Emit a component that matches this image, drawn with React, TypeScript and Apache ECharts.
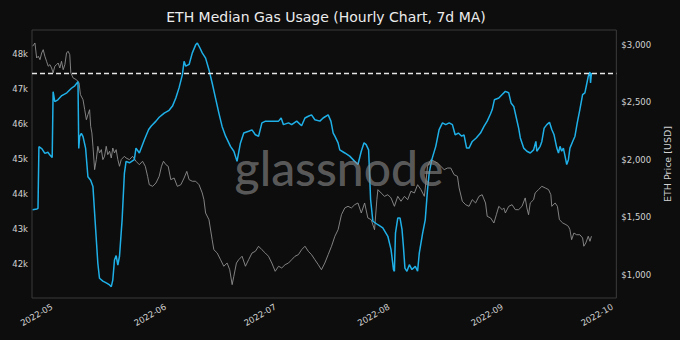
import React, { useEffect, useRef } from 'react';
import * as echarts from 'echarts';

const TITLE = 'ETH Median Gas Usage (Hourly Chart, 7d MA)';
const PRICE_AXIS_NAME = 'ETH Price [USD]';
const WATERMARK = 'glassnode';

const gasTicks = [42000, 43000, 44000, 45000, 46000, 47000, 48000];
const priceTicks = [1000, 1500, 2000, 2500, 3000];
const monthTicks = ['2022-05-01', '2022-06-01', '2022-07-01', '2022-08-01', '2022-09-01', '2022-10-01'];
const timeRange = ['2022-04-25 13:40', '2022-10-02 02:10'];
const gasRange = [41037, 48694];
const priceRange = [800, 3130];
const gasReference = 47470;

const gasUsage: [string, number][] = [
  ['2022-04-25 18:00', 43560], ['2022-04-26 22:00', 43580], ['2022-04-27 05:00', 43600], ['2022-04-27 11:00', 45360],
  ['2022-04-28 07:00', 45300], ['2022-04-29 02:00', 45170], ['2022-04-29 22:00', 45200], ['2022-04-30 11:00', 45120],
  ['2022-05-01 02:00', 45050], ['2022-05-01 08:00', 46930], ['2022-05-01 19:00', 46650], ['2022-05-02 15:00', 46700],
  ['2022-05-03 17:00', 46820], ['2022-05-05 02:00', 46900], ['2022-05-06 08:00', 47030], ['2022-05-07 06:00', 47100],
  ['2022-05-08 03:00', 47220], ['2022-05-08 08:00', 45310], ['2022-05-08 14:00', 45650], ['2022-05-09 01:00', 45740],
  ['2022-05-09 12:00', 45650], ['2022-05-10 05:00', 45310], ['2022-05-10 20:00', 44500], ['2022-05-11 14:00', 44400],
  ['2022-05-12 05:00', 44220], ['2022-05-12 23:00', 42980], ['2022-05-13 13:00', 42030], ['2022-05-14 00:00', 41600],
  ['2022-05-14 22:00', 41520], ['2022-05-15 20:00', 41470], ['2022-05-16 18:00', 41410], ['2022-05-17 05:00', 41360],
  ['2022-05-17 15:00', 41550], ['2022-05-18 02:00', 42120], ['2022-05-18 13:00', 42250], ['2022-05-19 00:00', 41980],
  ['2022-05-19 11:00', 42230], ['2022-05-20 04:00', 43270], ['2022-05-20 19:00', 44600], ['2022-05-21 06:00', 44940],
  ['2022-05-22 04:00', 44900], ['2022-05-23 12:00', 44990], ['2022-05-23 23:00', 45320], ['2022-05-24 21:00', 45180],
  ['2022-05-26 06:00', 45560], ['2022-05-27 10:00', 45850], ['2022-05-28 03:00', 45950], ['2022-05-29 10:00', 46090],
  ['2022-05-30 07:00', 46200], ['2022-05-31 16:00', 46320], ['2022-06-02 00:00', 46400], ['2022-06-02 22:00', 46520],
  ['2022-06-03 20:00', 46750], ['2022-06-04 17:00', 47040], ['2022-06-05 15:00', 47420], ['2022-06-06 02:00', 47800],
  ['2022-06-06 13:00', 47660], ['2022-06-07 11:00', 47710], ['2022-06-08 08:00', 48040], ['2022-06-09 06:00', 48270],
  ['2022-06-09 17:00', 48320], ['2022-06-10 10:00', 48180], ['2022-06-11 01:00', 48040], ['2022-06-11 23:00', 47890],
  ['2022-06-12 21:00', 47560], ['2022-06-13 18:00', 47180], ['2022-06-14 16:00', 46750], ['2022-06-15 14:00', 46320],
  ['2022-06-16 11:00', 45940], ['2022-06-17 10:00', 45660], ['2022-06-18 18:00', 45370], ['2022-06-19 16:00', 45230],
  ['2022-06-20 13:00', 44940], ['2022-06-21 11:00', 45460], ['2022-06-22 09:00', 45750], ['2022-06-23 17:00', 45800],
  ['2022-06-24 15:00', 45840], ['2022-06-25 13:00', 45700], ['2022-06-26 10:00', 45660], ['2022-06-27 08:00', 46040],
  ['2022-06-28 08:00', 46090], ['2022-06-29 23:00', 46090], ['2022-07-01 21:00', 46090], ['2022-07-02 14:00', 46180],
  ['2022-07-03 05:00', 45990], ['2022-07-04 14:00', 46040], ['2022-07-05 11:00', 45990], ['2022-07-06 20:00', 46090],
  ['2022-07-08 04:00', 45960], ['2022-07-09 02:00', 46180], ['2022-07-10 00:00', 46230], ['2022-07-10 21:00', 46270],
  ['2022-07-11 19:00', 46130], ['2022-07-13 04:00', 46090], ['2022-07-14 01:00', 46180], ['2022-07-15 10:00', 46270],
  ['2022-07-16 04:00', 46090], ['2022-07-16 19:00', 45750], ['2022-07-17 06:00', 45660], ['2022-07-18 03:00', 45470],
  ['2022-07-18 14:00', 45270], ['2022-07-19 23:00', 45180], ['2022-07-21 07:00', 45090], ['2022-07-22 16:00', 44940],
  ['2022-07-23 13:00', 44850], ['2022-07-24 11:00', 45230], ['2022-07-25 05:00', 45470], ['2022-07-25 19:00', 45420],
  ['2022-07-26 11:00', 45270], ['2022-07-27 00:00', 43850], ['2022-07-27 15:00', 43230], ['2022-07-29 00:00', 43130],
  ['2022-07-30 08:00', 43040], ['2022-07-31 17:00', 42800], ['2022-08-01 14:00', 42420], ['2022-08-02 06:00', 41850],
  ['2022-08-02 12:00', 41800], ['2022-08-02 19:00', 42890], ['2022-08-03 10:00', 43320], ['2022-08-04 01:00', 43320],
  ['2022-08-04 14:00', 42990], ['2022-08-04 23:00', 42510], ['2022-08-05 09:00', 41890], ['2022-08-05 22:00', 41800],
  ['2022-08-06 14:00', 41990], ['2022-08-07 07:00', 41850], ['2022-08-08 05:00', 41940], ['2022-08-08 20:00', 41800],
  ['2022-08-09 07:00', 42320], ['2022-08-10 05:00', 42890], ['2022-08-10 22:00', 43270], ['2022-08-11 13:00', 44130],
  ['2022-08-12 00:00', 44610], ['2022-08-12 17:00', 44990], ['2022-08-13 19:00', 45370], ['2022-08-14 17:00', 45850],
  ['2022-08-15 15:00', 46040], ['2022-08-16 12:00', 45990], ['2022-08-17 11:00', 46040], ['2022-08-18 08:00', 45990],
  ['2022-08-19 02:00', 45700], ['2022-08-19 23:00', 45750], ['2022-08-20 21:00', 45660], ['2022-08-21 12:00', 45700],
  ['2022-08-22 05:00', 45320], ['2022-08-22 21:00', 45320], ['2022-08-23 18:00', 45510], ['2022-08-24 20:00', 45610],
  ['2022-08-26 00:00', 45750], ['2022-08-26 23:00', 45940], ['2022-08-27 20:00', 46090], ['2022-08-28 18:00', 46300],
  ['2022-08-29 05:00', 46420], ['2022-08-29 19:00', 46700], ['2022-08-31 00:00', 46750], ['2022-08-31 22:00', 46850],
  ['2022-09-01 19:00', 46940], ['2022-09-02 17:00', 46900], ['2022-09-03 08:00', 46610], ['2022-09-04 02:00', 46510],
  ['2022-09-04 19:00', 46180], ['2022-09-05 10:00', 45890], ['2022-09-05 21:00', 45610], ['2022-09-06 19:00', 45320],
  ['2022-09-07 16:00', 45230], ['2022-09-08 14:00', 45180], ['2022-09-09 12:00', 45270], ['2022-09-10 03:00', 45510],
  ['2022-09-10 09:00', 45230], ['2022-09-11 07:00', 45370], ['2022-09-11 18:00', 45510], ['2022-09-12 09:00', 45890],
  ['2022-09-13 03:00', 45990], ['2022-09-13 20:00', 46060], ['2022-09-14 11:00', 45850], ['2022-09-15 02:00', 45700],
  ['2022-09-15 20:00', 45320], ['2022-09-16 07:00', 45180], ['2022-09-16 17:00', 45370], ['2022-09-17 04:00', 45230],
  ['2022-09-17 15:00', 45320], ['2022-09-18 02:00', 45090], ['2022-09-18 13:00', 44850], ['2022-09-19 00:00', 44990],
  ['2022-09-19 10:00', 45320], ['2022-09-20 04:00', 45510], ['2022-09-20 19:00', 45660], ['2022-09-21 10:00', 46040],
  ['2022-09-22 03:00', 46420], ['2022-09-22 21:00', 46850], ['2022-09-23 12:00', 46900], ['2022-09-23 23:00', 47130],
  ['2022-09-24 10:00', 47370], ['2022-09-24 21:00', 47490], ['2022-09-25 01:00', 47180], ['2022-09-25 07:00', 47470],
];

const ethPrice: [string, number][] = [
  ['2022-04-25 18:00', 2989], ['2022-04-26 09:00', 3017], ['2022-04-26 20:00', 2887], ['2022-04-27 07:00', 2902],
  ['2022-04-27 18:00', 2872], ['2022-04-28 05:00', 2930], ['2022-04-28 15:00', 2959], ['2022-04-29 02:00', 2902],
  ['2022-04-29 13:00', 2858], ['2022-04-30 00:00', 2815], ['2022-04-30 11:00', 2829], ['2022-04-30 22:00', 2800],
  ['2022-05-01 08:00', 2757], ['2022-05-01 19:00', 2815], ['2022-05-02 07:00', 2829], ['2022-05-02 17:00', 2843],
  ['2022-05-03 04:00', 2800], ['2022-05-03 15:00', 2858], ['2022-05-04 02:00', 2785], ['2022-05-04 13:00', 2829],
  ['2022-05-05 00:00', 2930], ['2022-05-05 10:00', 2945], ['2022-05-05 21:00', 2916], ['2022-05-06 04:00', 2757],
  ['2022-05-06 19:00', 2713], ['2022-05-07 17:00', 2698], ['2022-05-08 10:00', 2670], ['2022-05-08 19:00', 2568],
  ['2022-05-09 12:00', 2524], ['2022-05-09 23:00', 2437], ['2022-05-10 10:00', 2350], ['2022-05-10 20:00', 2394],
  ['2022-05-11 07:00', 2437], ['2022-05-11 14:00', 2293], ['2022-05-11 22:00', 2235], ['2022-05-12 05:00', 2119],
  ['2022-05-12 16:00', 1916], ['2022-05-13 03:00', 2003], ['2022-05-13 13:00', 2119], ['2022-05-14 00:00', 2061],
  ['2022-05-14 12:00', 2090], ['2022-05-14 22:00', 2003], ['2022-05-15 09:00', 2032], ['2022-05-15 20:00', 2119],
  ['2022-05-16 06:00', 2046], ['2022-05-16 18:00', 2076], ['2022-05-17 05:00', 2017], ['2022-05-17 15:00', 2104],
  ['2022-05-18 02:00', 2061], ['2022-05-18 13:00', 2090], ['2022-05-19 00:00', 2003], ['2022-05-19 11:00', 1945],
  ['2022-05-19 22:00', 2003], ['2022-05-20 19:00', 2032], ['2022-05-21 06:00', 2017], ['2022-05-22 04:00', 2003],
  ['2022-05-23 01:00', 2032], ['2022-05-23 23:00', 1989], ['2022-05-24 21:00', 1959], ['2022-05-25 18:00', 1989],
  ['2022-05-26 12:00', 1945], ['2022-05-27 03:00', 1858], ['2022-05-27 14:00', 1785], ['2022-05-28 12:00', 1771],
  ['2022-05-29 10:00', 1800], ['2022-05-30 07:00', 1858], ['2022-05-30 22:00', 1945], ['2022-05-31 11:00', 1989],
  ['2022-06-01 03:00', 1959], ['2022-06-01 18:00', 1945], ['2022-06-02 11:00', 1829], ['2022-06-03 09:00', 1843],
  ['2022-06-04 06:00', 1771], ['2022-06-05 05:00', 1785], ['2022-06-06 02:00', 1843], ['2022-06-06 20:00', 1901],
  ['2022-06-07 11:00', 1829], ['2022-06-08 08:00', 1815], ['2022-06-09 06:00', 1815], ['2022-06-10 04:00', 1785],
  ['2022-06-11 01:00', 1713], ['2022-06-11 12:00', 1655], ['2022-06-11 23:00', 1539], ['2022-06-12 21:00', 1481],
  ['2022-06-13 18:00', 1307], ['2022-06-14 05:00', 1220], ['2022-06-15 03:00', 1191], ['2022-06-16 01:00', 1133],
  ['2022-06-16 22:00', 1076], ['2022-06-17 20:00', 1104], ['2022-06-18 13:00', 1046], ['2022-06-19 05:00', 916],
  ['2022-06-19 16:00', 989], ['2022-06-20 09:00', 1104], ['2022-06-21 00:00', 1133], ['2022-06-21 22:00', 1163],
  ['2022-06-22 20:00', 1076], ['2022-06-23 17:00', 1133], ['2022-06-24 15:00', 1191], ['2022-06-25 13:00', 1206],
  ['2022-06-26 10:00', 1250], ['2022-06-27 08:00', 1220], ['2022-06-28 06:00', 1191], ['2022-06-29 03:00', 1163],
  ['2022-06-30 01:00', 1104], ['2022-06-30 23:00', 1032], ['2022-07-01 21:00', 1076], ['2022-07-02 18:00', 1061],
  ['2022-07-03 16:00', 1090], ['2022-07-04 14:00', 1104], ['2022-07-05 11:00', 1133], ['2022-07-06 09:00', 1163],
  ['2022-07-07 07:00', 1177], ['2022-07-08 04:00', 1220], ['2022-07-09 02:00', 1250], ['2022-07-10 00:00', 1206],
  ['2022-07-10 21:00', 1177], ['2022-07-11 19:00', 1133], ['2022-07-12 17:00', 1090], ['2022-07-13 14:00', 1046],
  ['2022-07-14 12:00', 1104], ['2022-07-15 10:00', 1177], ['2022-07-16 08:00', 1250], ['2022-07-17 06:00', 1337],
  ['2022-07-18 03:00', 1394], ['2022-07-19 01:00', 1524], ['2022-07-19 23:00', 1583], ['2022-07-20 20:00', 1597],
  ['2022-07-21 18:00', 1583], ['2022-07-22 16:00', 1611], ['2022-07-23 13:00', 1626], ['2022-07-24 11:00', 1539],
  ['2022-07-25 09:00', 1626], ['2022-07-26 06:00', 1496], ['2022-07-27 04:00', 1481], ['2022-07-28 02:00', 1394],
  ['2022-07-28 17:00', 1655], ['2022-07-29 00:00', 1742], ['2022-07-29 21:00', 1713], ['2022-07-30 19:00', 1684],
  ['2022-07-31 17:00', 1698], ['2022-08-01 14:00', 1670], ['2022-08-02 12:00', 1597], ['2022-08-03 10:00', 1684],
  ['2022-08-04 07:00', 1641], ['2022-08-05 06:00', 1684], ['2022-08-06 03:00', 1655], ['2022-08-07 00:00', 1728],
  ['2022-08-07 23:00', 1713], ['2022-08-08 20:00', 1785], ['2022-08-09 18:00', 1742], ['2022-08-10 16:00', 1684],
  ['2022-08-11 02:00', 1800], ['2022-08-11 13:00', 1945], ['2022-08-12 11:00', 2003], ['2022-08-13 09:00', 1989],
  ['2022-08-14 06:00', 1974], ['2022-08-15 04:00', 1945], ['2022-08-16 02:00', 1916], ['2022-08-17 00:00', 1930],
  ['2022-08-17 21:00', 1930], ['2022-08-18 19:00', 1872], ['2022-08-19 17:00', 1858], ['2022-08-20 04:00', 1757],
  ['2022-08-21 01:00', 1641], ['2022-08-21 23:00', 1611], ['2022-08-22 21:00', 1597], ['2022-08-23 18:00', 1655],
  ['2022-08-24 16:00', 1626], ['2022-08-25 14:00', 1684], ['2022-08-26 11:00', 1698], ['2022-08-27 09:00', 1626],
  ['2022-08-27 20:00', 1510], ['2022-08-28 18:00', 1496], ['2022-08-29 16:00', 1452], ['2022-08-30 08:00', 1524],
  ['2022-08-31 00:00', 1597], ['2022-08-31 22:00', 1568], ['2022-09-01 09:00', 1583], ['2022-09-01 19:00', 1539],
  ['2022-09-02 17:00', 1597], ['2022-09-03 15:00', 1611], ['2022-09-04 12:00', 1568], ['2022-09-05 10:00', 1568],
  ['2022-09-06 08:00', 1597], ['2022-09-07 05:00', 1670], ['2022-09-07 16:00', 1583], ['2022-09-08 03:00', 1524],
  ['2022-09-08 14:00', 1626], ['2022-09-09 12:00', 1655], ['2022-09-09 22:00', 1713], ['2022-09-10 20:00', 1742],
  ['2022-09-11 18:00', 1771], ['2022-09-12 16:00', 1757], ['2022-09-13 14:00', 1742], ['2022-09-14 05:00', 1698],
  ['2022-09-14 11:00', 1597], ['2022-09-15 09:00', 1626], ['2022-09-16 00:00', 1597], ['2022-09-16 13:00', 1481],
  ['2022-09-17 11:00', 1452], ['2022-09-18 08:00', 1438], ['2022-09-19 00:00', 1423], ['2022-09-19 10:00', 1394],
  ['2022-09-19 21:00', 1307], ['2022-09-20 12:00', 1365], ['2022-09-21 06:00', 1350], ['2022-09-22 03:00', 1350],
  ['2022-09-22 21:00', 1322], ['2022-09-23 05:00', 1250], ['2022-09-23 18:00', 1278], ['2022-09-24 10:00', 1337],
  ['2022-09-24 21:00', 1293], ['2022-09-25 07:00', 1337],
];

const toUtc = (s: string): number =>
  Date.parse(s.length > 10 ? s.replace(' ', 'T') + ':00Z' : s + 'T00:00:00Z');

const monthLabel = (v: number): string => {
  const d = new Date(v);
  return `${d.getUTCFullYear()}-${String(d.getUTCMonth() + 1).padStart(2, '0')}`;
};

const dollar = (v: number): string => {
  const th = Math.floor(v / 1000);
  const rest = v % 1000;
  return th > 0 ? `$${th},${String(rest).padStart(3, '0')}` : `$${rest}`;
};

const FONT = 'DejaVu Sans';
const LABEL_COLOR = '#d2d2d2';

export default function App() {
  const ref = useRef<HTMLDivElement>(null);

  useEffect(() => {
    if (!ref.current) return;
    const chart = echarts.init(ref.current, undefined, { renderer: 'svg' });
    chart.setOption({
      animation: false,
      backgroundColor: '#0d0d0d',
      textStyle: { fontFamily: FONT },
      title: {
        text: TITLE,
        left: 326,
        top: 10,
        padding: 0,
        textAlign: 'center',
        textStyle: { color: '#ececec', fontSize: 14, fontWeight: 'normal', fontFamily: FONT },
      },
      grid: {
        left: 32,
        right: 60,
        top: 30,
        bottom: 42,
        show: true,
        borderColor: '#3a3a3a',
        borderWidth: 1,
        backgroundColor: 'transparent',
      },
      xAxis: {
        type: 'value',
        min: toUtc(timeRange[0]),
        max: toUtc(timeRange[1]),
        axisLine: { show: false },
        axisTick: { show: false },
        splitLine: { show: false },
        axisLabel: {
          customValues: monthTicks.map(toUtc),
          formatter: (v: number) => monthLabel(v),
          rotate: 30,
          margin: 8,
          color: LABEL_COLOR,
          fontSize: 8.5,
          fontFamily: FONT,
          hideOverlap: false,
          showMinLabel: true,
          showMaxLabel: true,
        },
      },
      yAxis: [
        {
          type: 'value',
          position: 'left',
          min: gasRange[0],
          max: gasRange[1],
          axisLine: { show: false },
          axisTick: { show: false },
          splitLine: { show: false },
          axisLabel: {
            customValues: gasTicks,
            formatter: (v: number) => `${v / 1000}k`,
            margin: 4,
            color: LABEL_COLOR,
            fontSize: 8.5,
            fontFamily: FONT,
          },
        },
        {
          type: 'value',
          position: 'right',
          min: priceRange[0],
          max: priceRange[1],
          name: PRICE_AXIS_NAME,
          nameLocation: 'middle',
          nameRotate: 90,
          nameGap: 37,
          nameTextStyle: { color: LABEL_COLOR, fontSize: 9.5, fontFamily: FONT },
          axisLine: { show: false },
          axisTick: { show: false },
          splitLine: { show: false },
          axisLabel: {
            customValues: priceTicks,
            formatter: (v: number) => dollar(v),
            margin: 5,
            color: LABEL_COLOR,
            fontSize: 8.5,
            fontFamily: FONT,
          },
        },
      ],
      graphic: [
        {
          type: 'text',
          z: 100,
          silent: true,
          style: {
            text: WATERMARK,
            x: 339,
            y: 167,
            align: 'center',
            verticalAlign: 'middle',
            fill: 'rgba(140,140,140,0.62)',
            font: '500 48px Lato',
          },
        },
      ],
      series: [
        {
          name: 'ETH Price',
          type: 'line',
          yAxisIndex: 1,
          data: ethPrice.map(([t, v]) => [toUtc(t), v]),
          showSymbol: false,
          symbol: 'none',
          lineStyle: { color: '#8e8e8e', width: 0.9 },
          z: 2,
        },
        {
          name: 'Median Gas Usage',
          type: 'line',
          yAxisIndex: 0,
          data: gasUsage.map(([t, v]) => [toUtc(t), v]),
          showSymbol: false,
          symbol: 'none',
          lineStyle: { color: '#1fb0e8', width: 1.5 },
          z: 3,
          markLine: {
            silent: true,
            symbol: ['none', 'none'],
            label: { show: false },
            lineStyle: { color: '#e6e6e6', type: [5, 3], width: 1.3 },
            data: [{ yAxis: gasReference }],
          },
        },
      ],
    });
    return () => chart.dispose();
  }, []);

  return (
    <div
      ref={ref}
      style={{ position: 'fixed', left: 0, top: 0, width: 680, height: 340 }}
    />
  );
}
